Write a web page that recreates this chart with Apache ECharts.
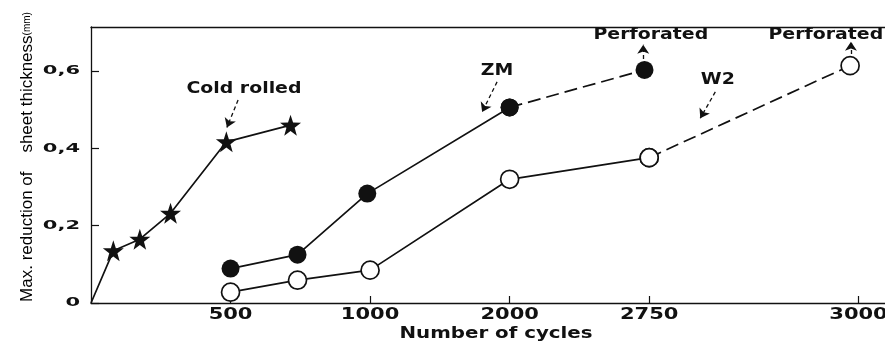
<!DOCTYPE html>
<html>
<head>
<meta charset="utf-8">
<script src="https://cdn.jsdelivr.net/npm/echarts@6/dist/echarts.min.js"></script>
<style>
  html, body { margin: 0; padding: 0; background: #fff; }
  #chart { width: 885px; height: 345px; }
</style>
</head>
<body>
<div id="chart"></div>
<script>
// Maximum reduction of sheet thickness (mm) against number of cycles
const coldRolledCycles = [0, 80, 175, 285, 485, 715];
const coldRolledValues = [0, 0.135, 0.165, 0.232, 0.417, 0.460];
const zmCycles = [500, 740, 990, 2000, 2725];
const zmValues = [0.089, 0.125, 0.283, 0.506, 0.603];
const w2Cycles = [500, 740, 1000, 2000, 2750, 2990];
const w2Values = [0.028, 0.059, 0.085, 0.320, 0.376, 0.614];
const xTickCycles = [500, 1000, 2000, 2750, 3000];
const yTickValues = [0, 0.2, 0.4, 0.6];
const xAxisTitle = 'Number of cycles';
const yAxisTitle = 'Max. reduction of    sheet thickness';
const yAxisUnit = '(mm)';

// Notes written on the plot: text, anchor (cycles, mm), arrow from/to (cycles, mm)
const noteTexts = ['Cold rolled', 'ZM', 'Perforated', 'W2', 'Perforated'];
const noteAnchors = [[548, 0.553], [1910, 0.600], [2752, 0.694], [2832, 0.577], [2961, 0.694]];
const noteArrows = [
  [[527, 0.525], [487, 0.454]],
  [[1910, 0.572], [1803, 0.494]],
  [[2718, 0.631], [2718, 0.668]],
  [[2829, 0.546], [2811, 0.478]],
  [[2991, 0.644], [2991, 0.676]]
];

// The cycle axis is broken: each breakpoint gets its own slot on the axis
const scaleCycles = [0, 500, 1000, 2000, 2750, 3000];
const scaleSlots = [0, 1, 2, 3, 4, 5.5];
function toSlot(c) {
  for (let i = 1; i < scaleCycles.length; i++) {
    if (c <= scaleCycles[i] || i === scaleCycles.length - 1) {
      const t = (c - scaleCycles[i - 1]) / (scaleCycles[i] - scaleCycles[i - 1]);
      return scaleSlots[i - 1] + t * (scaleSlots[i] - scaleSlots[i - 1]);
    }
  }
  return 0;
}
function pts(xs, ys) { return xs.map((c, i) => [toSlot(c), ys[i]]); }

const INK = '#111';
const FONT = 'DejaVu Sans';
const STAR = 'path://M50,0 L61.8,35.1 L98.9,35.5 L69.1,57.6 L79.4,93.1 L50,72 L20.6,93.1 L30.9,57.6 L1.1,35.5 L38.2,35.1 Z';

const coldData = pts(coldRolledCycles, coldRolledValues).map((p, i) =>
  i === 0 ? { value: p, symbol: 'none' } : p);
const zmAll = pts(zmCycles, zmValues);
const w2All = pts(w2Cycles, w2Values);

const solid = { color: INK, width: 1.7 };
const dashed = { color: INK, width: 1.7, type: [13, 6] };

const chart = echarts.init(document.getElementById('chart'));
chart.setOption({
  animation: false,
  backgroundColor: '#fff',
  grid: { left: 91, right: 0, top: 27, bottom: 42 },
  xAxis: [{
    type: 'value',
    min: 0,
    max: 5.69,
    axisLine: { lineStyle: { color: INK, width: 1.3 } },
    axisTick: { inside: true, length: 7, lineStyle: { color: INK, width: 1.2 }, customValues: xTickCycles.map(toSlot) },
    axisLabel: { show: false },
    splitLine: { show: false }
  }, {
    type: 'value', position: 'top', min: 0, max: 5.69,
    axisLine: { show: true, onZero: false, lineStyle: { color: INK, width: 1.3 } },
    axisTick: { show: false }, axisLabel: { show: false }, splitLine: { show: false }
  }],
  yAxis: {
    type: 'value',
    min: 0,
    max: 0.714,
    axisLine: { show: true, lineStyle: { color: INK, width: 1.3 } },
    axisTick: { show: true, inside: true, length: 8, lineStyle: { color: INK, width: 1.2 }, customValues: yTickValues },
    axisLabel: { show: false },
    splitLine: { show: false }
  },
  series: [
    {
      name: 'Cold rolled', type: 'line', data: coldData,
      symbol: STAR, symbolSize: 21, showAllSymbol: true,
      lineStyle: solid, itemStyle: { color: INK }, z: 3
    },
    {
      name: 'ZM', type: 'line', data: zmAll.slice(0, 4),
      symbol: 'circle', symbolSize: 18,
      lineStyle: solid, itemStyle: { color: INK }, z: 3
    },
    {
      name: 'ZM perforation', type: 'line', data: zmAll.slice(3),
      symbol: 'circle', symbolSize: 18,
      lineStyle: dashed, itemStyle: { color: INK }, z: 3
    },
    {
      name: 'W2', type: 'line', data: w2All.slice(0, 5),
      symbol: 'circle', symbolSize: 18,
      lineStyle: solid, itemStyle: { color: '#fff', borderColor: INK, borderWidth: 1.7 }, z: 3
    },
    {
      name: 'W2 perforation', type: 'line', data: w2All.slice(4),
      symbol: 'circle', symbolSize: 18,
      lineStyle: dashed, itemStyle: { color: '#fff', borderColor: INK, borderWidth: 1.7 }, z: 3
    },
    {
      name: 'notes', type: 'scatter', data: [], silent: true,
      markLine: {
        silent: true, animation: false,
        symbol: ['none', 'arrow'], symbolSize: 9,
        label: { show: false },
        lineStyle: { color: INK, width: 1.3, type: [4, 3] },
        data: noteArrows.map(a => [
          { coord: [toSlot(a[0][0]), a[0][1]] },
          { coord: [toSlot(a[1][0]), a[1][1]] }
        ])
      }
    }
  ]
});

// Lettering is set wide, so texts are placed through the axes and stretched horizontally
function px(c, v) { return chart.convertToPixel({ gridIndex: 0 }, [toSlot(c), v]); }
function wideText(text, x, y, size, stretch, align) {
  return {
    type: 'text', x: x, y: y, scaleX: stretch, z: 10,
    style: { text: text, fontFamily: FONT, fontWeight: 'bold', fontSize: size, fill: INK,
      align: align || 'center', verticalAlign: 'middle' }
  };
}
const g = [];
const axisY = px(0, 0)[1];
const axisX = px(0, 0)[0];
xTickCycles.forEach(c => {
  g.push(wideText(String(c), px(c, 0)[0], axisY + 12, 15, 1.4));
});
yTickValues.forEach(v => {
  const label = v === 0 ? '0' : v.toFixed(1).replace('.', ',');
  g.push(wideText(label, axisX - 11, px(0, v)[1], 12, 1.75, 'right'));
});
g.push(wideText(xAxisTitle, 496, axisY + 31, 15, 1.32));
noteTexts.forEach((t, i) => {
  const p = px(noteAnchors[i][0], noteAnchors[i][1]);
  g.push(wideText(t, p[0], p[1], 15, 1.26));
});
g.push({
  type: 'text', x: 27, y: 157, rotation: Math.PI / 2, z: 10,
  style: {
    text: '{a|' + yAxisTitle + '}{u|' + yAxisUnit + '}',
    align: 'center', verticalAlign: 'middle',
    rich: {
      a: { fontFamily: 'Liberation Sans', fontSize: 17, color: INK },
      u: { fontFamily: 'Liberation Sans', fontSize: 10, color: INK }
    }
  }
});
chart.setOption({ graphic: g });
</script>
</body>
</html>
